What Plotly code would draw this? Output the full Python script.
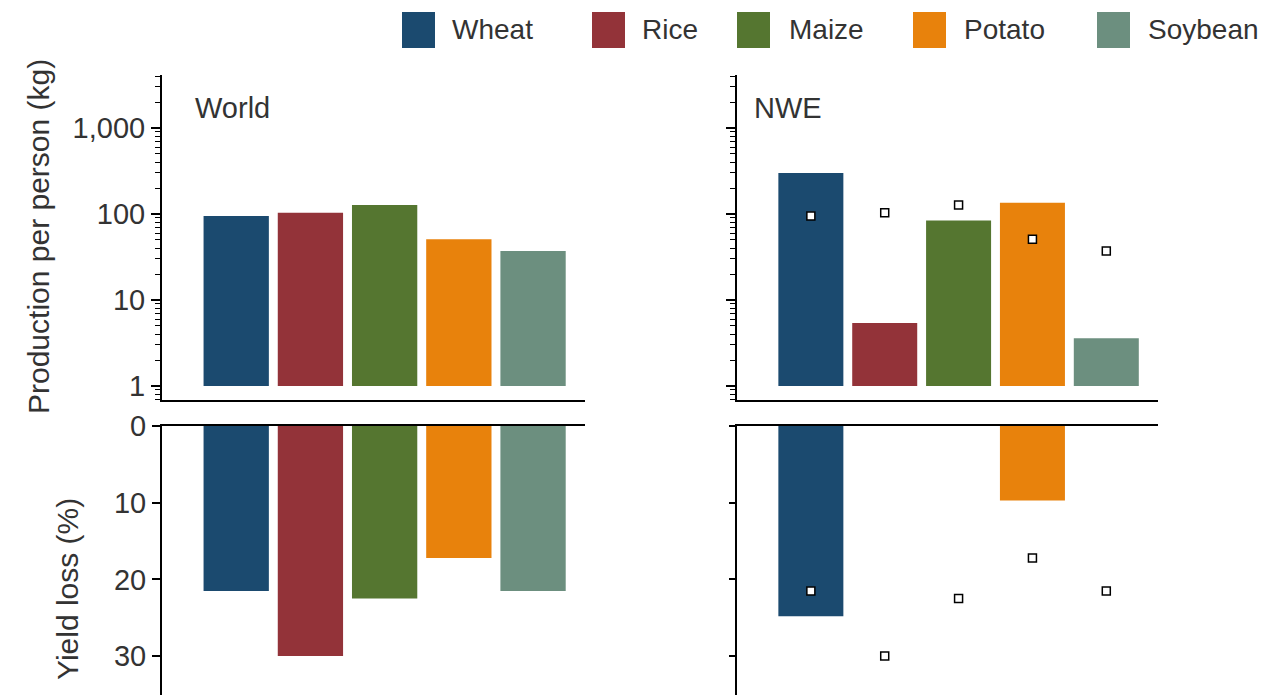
import plotly.graph_objects as go

crops = ["Wheat", "Rice", "Maize", "Potato", "Soybean"]
colors = ["#1b4a6f", "#933339", "#557630", "#e8820c", "#6c8f7f"]

world_prod = [95, 103, 127, 51, 37]      # kg per person
nwe_prod = [300, 5.4, 84, 135, 3.6]      # kg per person
world_loss = [21.5, 30.0, 22.5, 17.2, 21.5]  # %
nwe_loss = [24.8, 0, 0, 9.7, 0]             # %

prod_ticks = [1, 10, 100, 1000]
prod_ticktext = ["1", "10", "100", "1,000"]
loss_ticks = [0, 10, 20, 30]

FONT = "Liberation Sans, Arial, sans-serif"
TXT = "#333333"
W, H = 1265, 695
FS = 29

fig = go.Figure()

# top panels (log bars starting at 1)
fig.add_trace(go.Bar(x=crops, y=[v - 1 for v in world_prod], base=1, marker_color=colors,
                     marker_line_width=0, width=0.88, xaxis="x", yaxis="y", showlegend=False,
                     customdata=world_prod, hovertemplate="%{x}: %{customdata}<extra>World</extra>"))
fig.add_trace(go.Bar(x=crops, y=[v - 1 for v in nwe_prod], base=1, marker_color=colors,
                     marker_line_width=0, width=0.88, xaxis="x2", yaxis="y2", showlegend=False,
                     customdata=nwe_prod, hovertemplate="%{x}: %{customdata}<extra>NWE</extra>"))
fig.add_trace(go.Scatter(x=crops, y=world_prod, mode="markers", xaxis="x2", yaxis="y2",
                         marker=dict(symbol="square", size=8, color="white",
                                     line=dict(color="black", width=1.5)),
                         showlegend=False, hovertemplate="World %{x}: %{y}<extra></extra>"))

# bottom panels (yield loss)
fig.add_trace(go.Bar(x=crops, y=world_loss, marker_color=colors, marker_line_width=0, width=0.88,
                     xaxis="x3", yaxis="y3", showlegend=False))
fig.add_trace(go.Bar(x=crops, y=nwe_loss, marker_color=colors, marker_line_width=0, width=0.88,
                     xaxis="x4", yaxis="y4", showlegend=False))
fig.add_trace(go.Scatter(x=crops, y=world_loss, mode="markers", xaxis="x4", yaxis="y4",
                         marker=dict(symbol="square", size=8, color="white",
                                     line=dict(color="black", width=1.5)),
                         showlegend=False, hovertemplate="World %{x}: %{y}<extra></extra>"))

dx_left = [162 / W, 585 / W]
dx_right = [737 / W, 1158 / W]
dy_top = [(H - 400) / H, (H - 75) / H]
dy_bot = [0, (H - 426) / H]

xcommon = dict(type="category", range=[-1, 4.7], showticklabels=False, ticks="",
               showline=True, linecolor="black", linewidth=2, showgrid=False, zeroline=False,
               fixedrange=True, automargin=False)

minor_vals = []
for dec in [0.1, 1, 10, 100, 1000]:
    for m in range(2, 10):
        v = m * dec
        if 0.69 < v < 4100:
            minor_vals.append(v)

ytop = dict(type="log", range=[-0.163, 3.616], showline=True, linecolor="black", linewidth=2,
            ticks="outside", ticklen=9, tickwidth=1.5, tickcolor="black",
            tickmode="array", tickvals=prod_ticks, ticktext=prod_ticktext,
            showgrid=False, zeroline=False, automargin=False,
            minor=dict(tickmode="array", tickvals=minor_vals, ticks="outside", ticklen=5,
                       tickwidth=1, tickcolor="black", showgrid=False),
            tickfont=dict(family=FONT, size=FS, color=TXT))

ybot = dict(range=[35.07, 0], showline=True, linecolor="black", linewidth=2,
            ticks="outside", ticklen=8, tickwidth=1.5, tickcolor="black",
            tickmode="array", tickvals=loss_ticks, showgrid=False, zeroline=False,
            automargin=False, tickfont=dict(family=FONT, size=FS, color=TXT))

fig.update_layout(
    width=W, height=H, autosize=False,
    margin=dict(l=0, r=0, t=0, b=0, pad=0, autoexpand=False),
    paper_bgcolor="white", plot_bgcolor="white",
    font=dict(family=FONT, size=FS, color=TXT),
    showlegend=False,
    bargap=0.1,
    xaxis=dict(domain=dx_left, anchor="y", **xcommon),
    xaxis2=dict(domain=dx_right, anchor="y2", **xcommon),
    xaxis3=dict(domain=dx_left, anchor="y3", side="top", **xcommon),
    xaxis4=dict(domain=dx_right, anchor="y4", side="top", **xcommon),
    yaxis=dict(domain=dy_top, anchor="x", **ytop),
    yaxis2=dict(domain=dy_top, anchor="x2", **{**ytop, "showticklabels": False}),
    yaxis3=dict(domain=dy_bot, anchor="x3", **ybot),
    yaxis4=dict(domain=dy_bot, anchor="x4", **{**ybot, "showticklabels": False, "ticklen": 6}),
)

annotations = [
    dict(text="World", x=193 / W, y=(H - 108) / H, xref="paper", yref="paper",
         xanchor="left", yanchor="middle", showarrow=False, font=dict(size=FS, color=TXT)),
    dict(text="NWE", x=752 / W, y=(H - 108) / H, xref="paper", yref="paper",
         xanchor="left", yanchor="middle", showarrow=False, font=dict(size=FS, color=TXT)),
    dict(text="Production per person (kg)", x=38 / W, y=(H - 237) / H, xref="paper", yref="paper",
         xanchor="center", yanchor="middle", textangle=-90, showarrow=False,
         font=dict(size=30, color=TXT)),
    dict(text="Yield loss (%)", x=67 / W, y=(H - 589) / H, xref="paper", yref="paper",
         xanchor="center", yanchor="middle", textangle=-90, showarrow=False,
         font=dict(size=30, color=TXT)),
]

# custom legend
leg_sq_x = [402, 592, 737, 913, 1097]
leg_txt_x = [450, 640, 787, 962, 1146]
shapes = []
for name, col, sx, tx in zip(crops, colors, leg_sq_x, leg_txt_x):
    shapes.append(dict(type="rect", xref="paper", yref="paper",
                       x0=sx / W, x1=(sx + 33) / W, y0=(H - 48) / H, y1=(H - 12) / H,
                       fillcolor=col, line=dict(width=0)))
    annotations.append(dict(text=name, x=tx / W, y=(H - 30) / H, xref="paper", yref="paper",
                            xanchor="left", yanchor="middle", showarrow=False,
                            font=dict(size=28, color=TXT)))

fig.update_layout(annotations=annotations, shapes=shapes)
fig.write_html("out.html", config={"displayModeBar": False},
               post_script="document.body.style.margin='0';document.body.style.overflow='hidden';")
